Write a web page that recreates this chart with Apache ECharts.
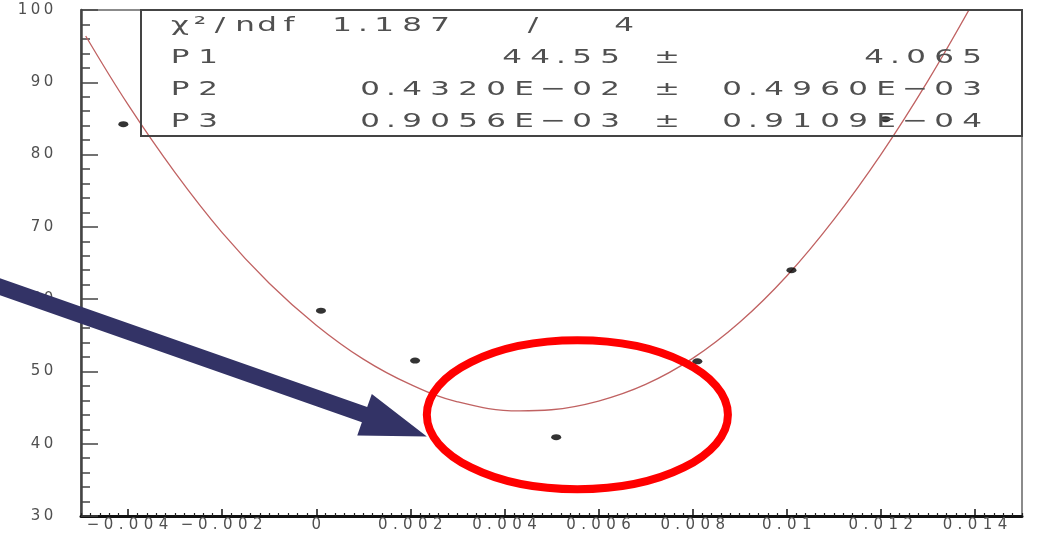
<!DOCTYPE html>
<html>
<head>
<meta charset="utf-8">
<script src="https://cdn.jsdelivr.net/npm/echarts@6/dist/echarts.min.js"></script>
<style>
  html, body { margin: 0; padding: 0; background: #ffffff; }
  #chart { width: 1039px; height: 549px; }
</style>
</head>
<body>
<div id="chart"></div>
<script>
// Measured points
const pointX = [-0.0041, 0.0001, 0.0021, 0.0051, 0.0081, 0.0101, 0.0121];
const pointY = [84.2, 58.4, 51.5, 40.9, 51.4, 64.0, 84.9];

// Fitted curve, sampled along x (minimum at P2, P1)
const curveX = [-0.0049, -0.004, -0.003, -0.002, -0.001, 0, 0.001, 0.002, 0.003, 0.00432,
                0.005, 0.006, 0.007, 0.008, 0.009, 0.010, 0.011, 0.012, 0.013, 0.014];
const curveY = [96.4, 86.9, 77.5, 69.2, 62.2, 56.4, 51.7, 48.2, 45.8, 44.55,
                44.7, 45.9, 48.2, 51.8, 56.8, 63.2, 71.0, 80.0, 90.2, 101.5];

// Axis ticks
const xTicks = [-0.004, -0.002, 0, 0.002, 0.004, 0.006, 0.008, 0.010, 0.012, 0.014];
const xTickLabels = ['−0.004', '−0.002', '0', '0.002', '0.004', '0.006', '0.008', '0.01', '0.012', '0.014'];
const yTickLabels = ['30', '40', '50', '60', '70', '80', '90', '100'];

// Fit statistics
const chi2Label = 'χ²/ndf';
const chi2Value = '1.187';
const ndfValue = '4';
const fitNames = ['P1', 'P2', 'P3'];
const fitValues = ['44.55', '0.4320E−02', '0.9056E−03'];
const fitErrors = ['4.065', '0.4960E−03', '0.9109E−04'];

// Highlight annotations, in data coordinates
const arrowFrom = [-0.0072, 62.8];
const arrowTo = [0.00235, 41.0];
const ringCenter = [0.00555, 44.0];
const ringRadius = [0.0032, 10.3];

const FONT = 'DejaVu Sans';
const TEXT_COLOR = '#505050';
const GRID = { left: 81, top: 10, right: 17, bottom: 33 };
const W = 1039, H = 549;

// Wide, evenly spaced lettering: every character sits in its own box.
function spaced(str, classify) {
  return str.split('').map(function (ch) { return '{' + classify(ch) + '|' + ch + '}'; }).join('');
}
function axisClass(ch) {
  if (ch === '.') return 'p';
  if (ch === '−') return 'm';
  return 'd';
}
function axisRich(digitW, dotW, minusW) {
  const base = { fontFamily: FONT, fontSize: 15, color: TEXT_COLOR, align: 'center' };
  return {
    d: Object.assign({ width: digitW }, base),
    p: Object.assign({ width: dotW }, base),
    m: Object.assign({ width: minusW }, base)
  };
}

// Minor ticks along x every 0.0002
const xMinorTicks = [];
for (let k = -25; k <= 75; k++) {
  if (k % 10 === 0) continue;
  xMinorTicks.push(Number((k * 0.0002).toFixed(4)));
}

const chart = echarts.init(document.getElementById('chart'), null, { renderer: 'canvas' });

const option = {
  backgroundColor: '#ffffff',
  animation: false,
  grid: Object.assign({ show: true, borderColor: '#666666', borderWidth: 1.5, containLabel: false }, GRID),
  xAxis: [
    {
      type: 'value', min: -0.005, max: 0.015, position: 'bottom',
      axisLine: { show: true, onZero: false, lineStyle: { color: '#111111', width: 3 } },
      axisTick: { show: true, inside: true, length: 7, customValues: xTicks, lineStyle: { color: '#111111', width: 1.5 } },
      axisLabel: {
        show: true, margin: 2, customValues: xTicks,
        fontFamily: FONT, fontSize: 15, color: TEXT_COLOR,
        formatter: function (v) {
          const i = xTicks.findIndex(function (t) { return Math.abs(t - v) < 1e-9; });
          return i < 0 ? '' : spaced(xTickLabels[i], axisClass);
        },
        rich: axisRich(15, 10, 16)
      },
      splitLine: { show: false }
    },
    {
      type: 'value', min: -0.005, max: 0.015, position: 'bottom',
      axisLine: { show: false },
      axisTick: { show: true, inside: true, length: 3, customValues: xMinorTicks, lineStyle: { color: '#222222', width: 1.2 } },
      axisLabel: { show: false },
      splitLine: { show: false }
    }
  ],
  yAxis: {
    type: 'value', min: 30, max: 100, interval: 10,
    axisLine: { show: true, onZero: false, lineStyle: { color: '#444444', width: 2.5 } },
    axisTick: { show: true, inside: true, length: 17, lineStyle: { color: '#444444', width: 1.5 } },
    minorTick: { show: true, splitNumber: 5, length: 9, lineStyle: { color: '#444444', width: 1.5 } },
    axisLabel: {
      show: true, margin: 26,
      fontFamily: FONT, fontSize: 15, color: TEXT_COLOR,
      formatter: function (v) {
        const s = yTickLabels.find(function (t) { return Number(t) === Math.round(v); });
        return s ? spaced(s, axisClass) : '';
      },
      rich: axisRich(13, 8, 14)
    },
    splitLine: { show: false }
  },
  series: [
    {
      name: 'fit', type: 'line', xAxisIndex: 0,
      data: curveX.map(function (x, i) { return [x, curveY[i]]; }),
      smooth: 0.4, showSymbol: false, symbol: 'none', clip: true,
      lineStyle: { color: '#c06262', width: 1.3 },
      z: 2
    },
    {
      name: 'points', type: 'scatter', xAxisIndex: 0,
      data: pointX.map(function (x, i) { return [x, pointY[i]]; }),
      symbol: 'circle', symbolSize: [10, 6],
      itemStyle: { color: '#000000' },
      z: 3
    }
  ]
};
chart.setOption(option);

// ---- statistics box and highlight annotations ----
const SX = 1.55; // horizontal stretch of the statistics lettering
function statClass(ch) {
  if (ch === '.') return 'p';
  if (ch === '−' || ch === '±') return 'm';
  if (ch === 'n' || ch === 'd' || ch === 'f') return 'l';
  if (ch === '²') return 's';
  return 'w';
}
const statBase = { fontFamily: FONT, fontSize: 20, color: TEXT_COLOR, fill: TEXT_COLOR, align: 'center' };
const statRich = {
  w: Object.assign({ width: 28 / SX }, statBase),
  p: Object.assign({ width: 14 / SX }, statBase),
  m: Object.assign({ width: 30 / SX }, statBase),
  l: Object.assign({ width: 22 / SX }, statBase),
  s: Object.assign({ width: 12 / SX }, statBase)
};
function statText(str, x, y, align) {
  return {
    type: 'text', x: x, y: y, scaleX: SX, z: 20,
    style: {
      text: spaced(str, statClass), rich: statRich,
      x: 0, y: 0,
      align: align, textAlign: align,
      verticalAlign: 'middle', textVerticalAlign: 'middle',
      fontFamily: FONT, fontSize: 20, fill: TEXT_COLOR
    }
  };
}

const boxLeft = GRID.left + 60;
const boxRight = W - GRID.right;
const boxTop = GRID.top;
const boxBottom = 136;
const rowY = [26, 58, 90, 122];
const colName = boxLeft + 25;
const colValueRight = 624;
const colPm = 667;
const colErrRight = 986;

const graphics = [];
graphics.push({
  type: 'rect', z: 19,
  shape: { x: boxLeft, y: boxTop, width: boxRight - boxLeft, height: boxBottom - boxTop },
  style: { fill: 'none', stroke: '#444444', lineWidth: 2 }
});
graphics.push(statText(chi2Label, colName, rowY[0], 'left'));
graphics.push(statText(chi2Value, 328, rowY[0], 'left'));
graphics.push(statText('/', 533, rowY[0], 'center'));
graphics.push(statText(ndfValue, colValueRight, rowY[0], 'center'));
for (let i = 0; i < fitNames.length; i++) {
  graphics.push(statText(fitNames[i], colName, rowY[i + 1], 'left'));
  graphics.push(statText(fitValues[i], colValueRight, rowY[i + 1], 'right'));
  graphics.push(statText('±', colPm, rowY[i + 1], 'center'));
  graphics.push(statText(fitErrors[i], colErrRight, rowY[i + 1], 'right'));
}

// Ring around the low point
const toPx = function (p) { return chart.convertToPixel({ gridIndex: 0 }, p); };
const c = toPx(ringCenter);
const cx2 = toPx([ringCenter[0] + ringRadius[0], ringCenter[1]]);
const cy2 = toPx([ringCenter[0], ringCenter[1] + ringRadius[1]]);
graphics.push({
  type: 'ellipse', z: 30,
  shape: { cx: c[0], cy: c[1], rx: Math.abs(cx2[0] - c[0]), ry: Math.abs(cy2[1] - c[1]) },
  style: { fill: 'none', stroke: '#ff0000', lineWidth: 8 }
});

// Arrow pointing at the ring
const t = toPx(arrowFrom), h = toPx(arrowTo);
const len = Math.hypot(h[0] - t[0], h[1] - t[1]);
const dx = (h[0] - t[0]) / len, dy = (h[1] - t[1]) / len;
const nx = -dy, ny = dx;
const headLen = 66, headHalf = 22, shaftHalf = 8;
const bx = h[0] - dx * headLen, by = h[1] - dy * headLen;
graphics.push({
  type: 'polygon', z: 31,
  shape: {
    points: [
      [t[0] + nx * shaftHalf, t[1] + ny * shaftHalf],
      [bx + nx * shaftHalf, by + ny * shaftHalf],
      [bx + nx * headHalf, by + ny * headHalf],
      [h[0], h[1]],
      [bx - nx * headHalf, by - ny * headHalf],
      [bx - nx * shaftHalf, by - ny * shaftHalf],
      [t[0] - nx * shaftHalf, t[1] - ny * shaftHalf]
    ]
  },
  style: { fill: '#333366', stroke: 'none' }
});

chart.setOption({ graphic: { elements: graphics } });
</script>
</body>
</html>
